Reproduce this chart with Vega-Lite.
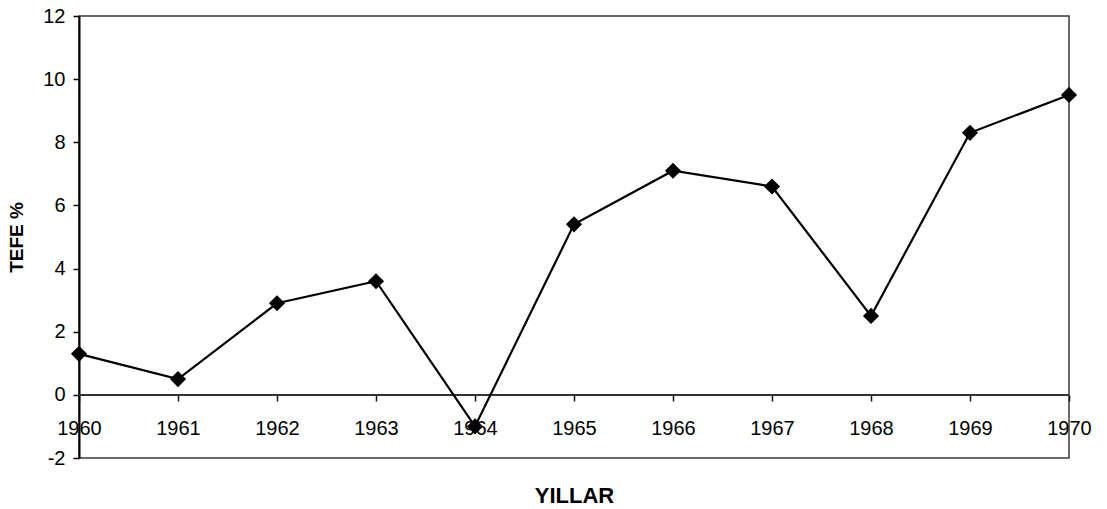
{
  "$schema": "https://vega.github.io/schema/vega-lite/v6.json",
  "width": 990,
  "height": 442,
  "autosize": {"type": "none"},
  "padding": {"left": 79, "top": 16, "right": 38, "bottom": 51},
  "background": "white",
  "config": {
    "font": "Liberation Sans",
    "view": {"stroke": "#3a3a3a", "strokeWidth": 1.5}
  },
  "data": {
    "values": [
      {"year": 1960, "tefe": 1.3},
      {"year": 1961, "tefe": 0.5},
      {"year": 1962, "tefe": 2.9},
      {"year": 1963, "tefe": 3.6},
      {"year": 1964, "tefe": -1.0},
      {"year": 1965, "tefe": 5.4},
      {"year": 1966, "tefe": 7.1},
      {"year": 1967, "tefe": 6.6},
      {"year": 1968, "tefe": 2.5},
      {"year": 1969, "tefe": 8.3},
      {"year": 1970, "tefe": 9.5}
    ]
  },
  "encoding": {
    "x": {
      "field": "year",
      "type": "quantitative",
      "scale": {"domain": [1960, 1970], "nice": false, "zero": false},
      "axis": {
        "title": "YILLAR",
        "titleFontSize": 22,
        "titleFontWeight": "bold",
        "titleColor": "black",
        "titlePadding": 47,
        "offset": -63,
        "values": [1960, 1961, 1962, 1963, 1964, 1965, 1966, 1967, 1968, 1969, 1970],
        "format": "d",
        "grid": false,
        "domain": false,
        "tickColor": "#111111",
        "tickWidth": 1.5,
        "tickSize": 6,
        "labelFontSize": 20,
        "labelColor": "black",
        "labelPadding": 17,
        "labelFlush": false,
        "labelOverlap": false,
        "labelBound": false
      }
    },
    "y": {
      "field": "tefe",
      "type": "quantitative",
      "scale": {"domain": [-2, 12], "nice": false},
      "axis": {
        "title": "TEFE %",
        "titleFontSize": 19,
        "titleFontWeight": "bold",
        "titleColor": "black",
        "titlePadding": 16,
        "values": [-2, 0, 2, 4, 6, 8, 10, 12],
        "labelExpr": "'' + datum.value",
        "grid": false,
        "domainColor": "black",
        "domainWidth": 2,
        "tickColor": "black",
        "tickWidth": 1.5,
        "tickSize": 6,
        "labelFontSize": 20,
        "labelColor": "black",
        "labelPadding": 8
      }
    }
  },
  "layer": [
    {
      "mark": {"type": "rule", "color": "#333333", "strokeWidth": 1.2},
      "encoding": {"y": {"datum": 0}, "x": {"value": 0}, "x2": {"value": 990}}
    },
    {"mark": {"type": "line", "color": "black", "strokeWidth": 2.2}},
    {"mark": {"type": "point", "shape": "diamond", "filled": true, "color": "black", "opacity": 1, "size": 260}}
  ]
}
